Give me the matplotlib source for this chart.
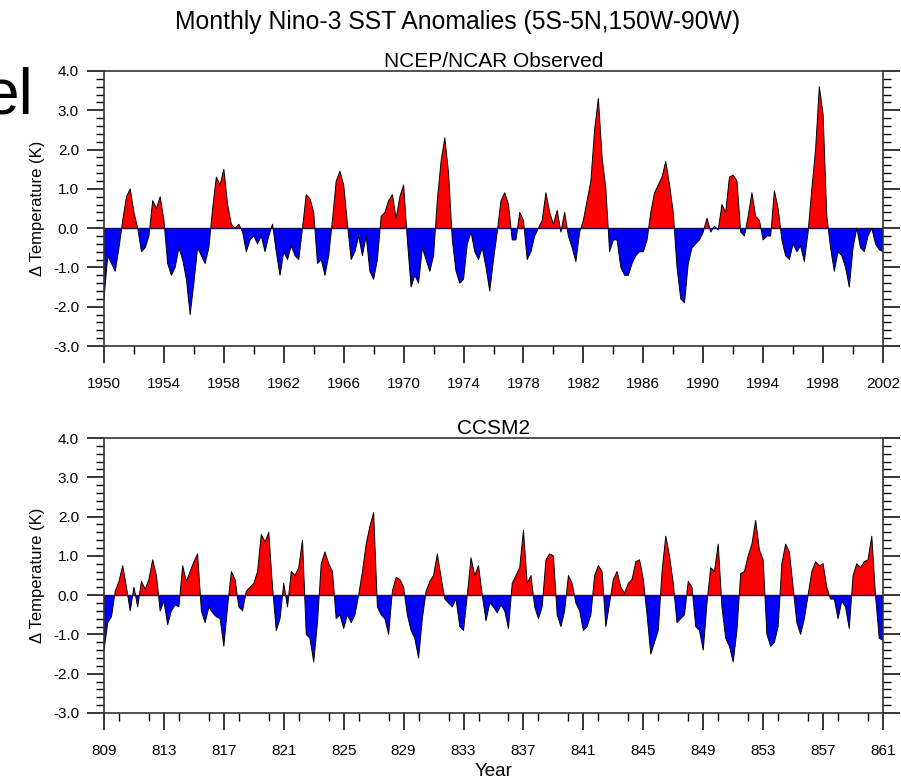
import numpy as np
import matplotlib
matplotlib.use("Agg")
import matplotlib.pyplot as plt
from matplotlib.ticker import MultipleLocator

plt.rcParams['font.family'] = ['Liberation Sans', 'DejaVu Sans']

# ---------------- data (quarterly samples) ----------------
obs_start = 1950
obs_values = [
    -1.8, -0.7, -0.9, -1.1, -0.5, 0.2, 0.8, 1.0, 0.4, 0.0, -0.6, -0.5,
    -0.2, 0.7, 0.5, 0.8, 0.2, -0.9, -1.2, -1.0, -0.5, -0.8, -1.3, -2.2,
    -1.4, -0.5, -0.7, -0.9, -0.5, 0.5, 1.3, 1.1, 1.5, 0.6, 0.1, 0.0,
    0.1, -0.1, -0.6, -0.3, -0.2, -0.4, -0.2, -0.6, -0.2, 0.1, -0.6, -1.2,
    -0.6, -0.8, -0.45, -0.7, -0.8, 0.0, 0.85, 0.75, 0.4, -0.9, -0.8, -1.2,
    -0.7, 0.2, 1.2, 1.45, 1.1, 0.1, -0.8, -0.6, -0.2, -0.7, -0.2, -1.1,
    -1.3, -0.8, 0.3, 0.4, 0.7, 0.85, 0.25, 0.8, 1.1, -0.3, -1.5, -1.2,
    -1.4, -0.5, -0.8, -1.1, -0.7, 0.7, 1.7, 2.3, 1.4, -0.3, -1.1, -1.4,
    -1.3, -0.4, -0.1, -0.6, -0.8, -0.5, -1.0, -1.6, -0.8, -0.1, 0.7, 0.9,
    0.6, -0.3, -0.3, 0.4, 0.2, -0.8, -0.6, -0.2, 0.0, 0.2, 0.9, 0.4,
    0.1, 0.45, -0.1, 0.4, -0.2, -0.5, -0.85, -0.1, 0.2, 0.7, 1.2, 2.5,
    3.3, 1.8, 1.0, -0.6, -0.3, -0.3, -1.0, -1.2, -1.2, -0.9, -0.7, -0.6,
    -0.6, -0.3, 0.4, 0.9, 1.1, 1.3, 1.7, 1.1, 0.4, -1.0, -1.8, -1.9,
    -0.9, -0.5, -0.4, -0.3, -0.1, 0.25, -0.1, 0.05, -0.05, 0.6, 0.4, 1.3,
    1.35, 1.2, -0.1, -0.2, 0.3, 0.9, 0.3, 0.2, -0.3, -0.2, -0.2, 0.95,
    0.5, -0.3, -0.7, -0.8, -0.4, -0.6, -0.45, -0.85, -0.1, 1.0, 2.0, 3.6,
    2.9, 0.3, -0.5, -1.1, -0.6, -0.7, -1.0, -1.5, -0.5, 0.0, -0.5, -0.6,
    -0.2, 0.0, -0.4, -0.55, -0.6,
]

model_start = 809
model_values = [
    -1.4, -0.7, -0.55, 0.1, 0.35, 0.75, 0.2, -0.4, 0.2, -0.3, 0.35, 0.15,
    0.4, 0.9, 0.5, -0.4, -0.15, -0.75, -0.4, -0.25, -0.3, 0.75, 0.35, 0.6,
    0.85, 1.05, -0.4, -0.7, -0.3, -0.45, -0.55, -0.6, -1.3, -0.3, 0.6, 0.4,
    -0.3, -0.4, 0.1, 0.2, 0.3, 0.6, 1.55, 1.35, 1.6, 0.2, -0.9, -0.6,
    0.3, -0.3, 0.6, 0.5, 0.7, 1.4, -1.0, -1.1, -1.7, -0.7, 0.8, 1.1,
    0.8, 0.6, -0.6, -0.5, -0.85, -0.5, -0.7, -0.5, 0.0, 0.6, 1.3, 1.75,
    2.1, -0.3, -0.5, -0.6, -1.0, 0.1, 0.45, 0.4, 0.2, -0.5, -0.9, -1.1,
    -1.6, -0.6, 0.1, 0.35, 0.5, 1.05, 0.45, -0.1, -0.2, -0.3, -0.1, -0.8,
    -0.9, 0.0, 0.95, 0.5, 0.75, 0.0, -0.65, -0.2, -0.3, -0.45, -0.25, -0.4,
    -0.85, 0.3, 0.5, 0.7, 1.65, 0.3, 0.5, -0.3, -0.6, -0.3, 0.9, 1.05,
    1.0, -0.5, -0.8, -0.4, 0.5, 0.3, -0.2, -0.4, -0.9, -0.8, -0.5, 0.5,
    0.75, 0.6, -0.8, -0.2, 0.4, 0.6, 0.2, 0.05, 0.3, 0.4, 0.85, 0.9,
    0.4, -0.5, -1.5, -1.2, -0.9, 0.6, 1.5, 1.0, 0.3, -0.7, -0.6, -0.5,
    0.35, 0.2, -0.8, -0.9, -1.4, -0.2, 0.7, 0.6, 1.3, -0.3, -1.1, -1.3,
    -1.7, -0.9, 0.55, 0.6, 1.0, 1.3, 1.9, 1.15, 0.9, -1.0, -1.3, -1.2,
    -0.8, 0.8, 1.3, 1.1, 0.2, -0.7, -1.0, -0.6, 0.0, 0.6, 0.85, 0.75,
    0.8, 0.2, -0.1, -0.1, -0.6, -0.15, -0.3, -0.85, 0.5, 0.8, 0.7, 0.85,
    0.9, 1.5, 0.0, -1.1, -1.15,
]

panel_titles = ["NCEP/NCAR Observed", "CCSM2"]
main_title = "Monthly Nino-3 SST Anomalies (5S-5N,150W-90W)"
ylabel = "\u0394 Temperature (K)"
xlabel = "Year"
yticks = [-3.0, -2.0, -1.0, 0.0, 1.0, 2.0, 3.0, 4.0]

W, H = 901, 783
fig = plt.figure(figsize=(W / 100, H / 100), dpi=100)


def fx(px):
    return px / W


def fy(py):
    return 1 - py / H


ax_left, ax_right = 104, 883
panels = [(71, 346), (438, 713)]
series = [(obs_start, obs_values), (model_start, model_values)]

for (top, bot), (start, vals), ttl in zip(panels, series, panel_titles):
    ax = fig.add_axes([fx(ax_left), fy(bot), fx(ax_right - ax_left), (bot - top) / H])
    v = np.array(vals)
    t = start + np.arange(len(v)) * 0.25
    ax.fill_between(t, v, 0, where=v >= 0, interpolate=True, color='#ff0000', lw=0)
    ax.fill_between(t, v, 0, where=v <= 0, interpolate=True, color='#0000ff', lw=0)
    ax.plot(t, v, color='black', lw=0.7)
    ax.axhline(0, color='#10105a', lw=1.0)
    ax.set_xlim(start, start + 52)
    ax.set_ylim(-3.0, 4.0)
    ax.set_xticks(np.arange(start, start + 53, 4))
    ax.xaxis.set_minor_locator(MultipleLocator(2))
    ax.set_yticks(yticks)
    ax.set_yticklabels([f"{y:.1f}" for y in yticks])
    ax.yaxis.set_minor_locator(MultipleLocator(0.2))
    ax.tick_params(axis='x', which='major', direction='out', length=12, width=1.1,
                   top=False, bottom=True, labelsize=11, pad=10)
    ax.tick_params(axis='x', which='minor', direction='out', length=6, width=1.0,
                   top=False, bottom=True)
    ax.tick_params(axis='y', which='major', direction='out', length=12, width=1.1,
                   left=True, right=True, labelsize=11, pad=6)
    ax.tick_params(axis='y', which='minor', direction='out', length=6, width=1.0,
                   left=True, right=True)
    for s in ax.spines.values():
        s.set_linewidth(1.2)
        s.set_color('#333333')
    ax.set_ylabel(ylabel, fontsize=12, labelpad=6)
    ax.set_title(ttl, fontsize=15, pad=3)

fig.text(fx(458), fy(22), main_title, ha='center', va='center', fontsize=17.8)
fig.text(fx(493.5), fy(772), xlabel, ha='center', va='center', fontsize=13.5)
fig.text(fx(33), fy(113), "el", ha='right', va='baseline', fontsize=46)

fig.savefig("out.png", dpi=100)
